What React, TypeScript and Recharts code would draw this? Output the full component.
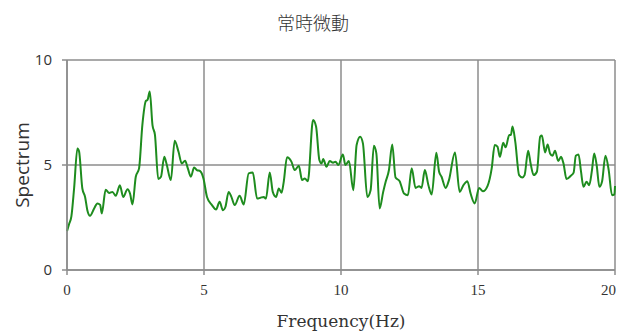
import { LineChart, Line, XAxis, YAxis, CartesianGrid } from 'recharts';

const freq = [
  0.0, 0.08, 0.16, 0.26, 0.38, 0.44, 0.56, 0.66, 0.74, 0.84, 0.99, 1.11, 1.21, 1.27, 1.41, 1.54, 1.66, 1.78, 1.93, 2.05,
  2.21, 2.3, 2.39, 2.51, 2.63, 2.75, 2.88, 2.94, 3.02, 3.12, 3.21, 3.33, 3.43, 3.55, 3.63, 3.79, 3.93, 4.07, 4.19, 4.31,
  4.41, 4.52, 4.64, 4.74, 4.86, 4.98, 5.11, 5.29, 5.44, 5.57, 5.69, 5.78, 5.9, 6.0, 6.12, 6.3, 6.45, 6.63, 6.78, 6.94,
  7.06, 7.18, 7.26, 7.4, 7.51, 7.63, 7.73, 7.83, 7.91, 8.03, 8.19, 8.31, 8.46, 8.58, 8.68, 8.79, 8.98, 9.09, 9.21, 9.29,
  9.35, 9.47, 9.59, 9.71, 9.8, 9.9, 10.07, 10.16, 10.29, 10.45, 10.57, 10.7, 10.8, 10.96, 11.08, 11.2, 11.29, 11.41, 11.54, 11.63,
  11.75, 11.87, 11.99, 12.14, 12.3, 12.44, 12.58, 12.72, 12.85, 12.94, 13.06, 13.19, 13.31, 13.48, 13.58, 13.67, 13.82, 13.94, 14.16, 14.33,
  14.47, 14.61, 14.73, 14.88, 15.04, 15.18, 15.35, 15.5, 15.61, 15.71, 15.8, 15.92, 16.01, 16.14, 16.2, 16.26, 16.36, 16.5, 16.62, 16.7,
  16.83, 16.92, 17.03, 17.15, 17.27, 17.33, 17.45, 17.54, 17.63, 17.72, 17.81, 17.93, 18.03, 18.12, 18.23, 18.39, 18.49, 18.57, 18.67, 18.76,
  18.85, 18.96, 19.06, 19.16, 19.24, 19.33, 19.43, 19.53, 19.65, 19.77, 19.89, 19.98, 20.0,
];

const spectrum = [
  1.85, 2.2, 2.55, 3.9, 5.79, 5.65, 3.88, 3.48, 2.86, 2.58, 2.93, 3.17, 3.1, 2.69, 3.82, 3.67, 3.72, 3.53, 4.04, 3.48,
  3.85, 3.64, 3.12, 4.44, 4.84, 6.9, 8.05, 8.1, 8.5, 6.9, 6.43, 4.33, 4.44, 5.39, 5.07, 4.28, 6.15, 5.63, 5.07, 5.2,
  4.84, 4.44, 4.88, 4.76, 4.71, 4.36, 3.48, 3.09, 2.88, 3.25, 2.85, 3.0, 3.72, 3.48, 3.09, 3.53, 3.12, 4.6, 4.64, 3.4,
  3.44, 3.48, 3.4, 4.64, 3.72, 3.48, 3.88, 3.68, 4.2, 5.37, 5.16, 4.76, 4.96, 4.28, 4.36, 4.23, 7.14, 6.83, 5.24, 5.07,
  5.28, 4.92, 5.19, 5.11, 5.16, 5.0, 5.5, 5.0, 5.19, 3.8, 5.95, 6.35, 6.03, 3.48, 3.8, 5.92, 5.55, 2.93, 3.72, 4.2,
  4.76, 5.98, 4.4, 4.23, 3.64, 3.56, 4.84, 3.91, 3.99, 3.91, 4.76, 4.04, 3.6, 5.58, 4.68, 4.44, 3.91, 4.28, 5.6, 3.72,
  4.04, 4.23, 3.64, 3.17, 3.91, 3.75, 4.01, 4.84, 5.95, 5.87, 5.39, 6.06, 5.84, 6.43, 6.43, 6.83, 6.11, 4.52, 4.41, 4.52,
  5.68, 5.07, 4.52, 4.68, 6.35, 6.4, 5.6, 5.98, 5.55, 5.44, 5.68, 5.19, 5.39, 5.07, 4.33, 4.49, 4.64, 5.44, 5.5, 4.68,
  3.96, 4.2, 4.04, 4.76, 5.55, 5.0, 3.96, 4.23, 5.44, 4.76, 3.56, 3.6, 4.0,
];

const xTicks = [0, 5, 10, 15, 20];
const yTicks = [0, 5, 10];

const data = freq.map((f, i) => ({ f, s: spectrum[i] }));

const gridColor = '#8c8c8c';
const serif = '"DejaVu Serif", "Liberation Serif", serif';
const sans = '"Open Sans", "Noto Sans", sans-serif';

// last tick label would run past the right edge, so anchor it at its end
function FreqTick(props: any) {
  const { x, y, payload, index } = props;
  const last = index === xTicks.length - 1;
  return (
    <text
      x={last ? x + 1 : x}
      y={y}
      dy="0.71em"
      textAnchor={last ? 'end' : 'middle'}
      fill="#333"
      fontSize={15}
      fontFamily='"Liberation Serif", serif'
    >
      {payload.value}
    </text>
  );
}

export default function App() {
  return (
    <div style={{ position: 'relative', width: 608, height: 324 }}>
      <div
        style={{
          position: 'absolute',
          left: -3,
          top: 4,
          width: 616,
          textAlign: 'center',
          fontFamily: '"Noto Sans CJK JP", sans-serif',
          fontWeight: 300,
          fontSize: 18,
          lineHeight: '20px',
          color: '#333',
        }}
      >
        常時微動
      </div>
      <LineChart width={608} height={324} data={data} margin={{ top: 52, right: 1, left: 0, bottom: 0 }}>
        <CartesianGrid
          stroke={gridColor}
          strokeWidth={1.5}
          horizontalValues={yTicks}
          verticalValues={xTicks}
        />
        <XAxis
          dataKey="f"
          type="number"
          domain={[0, 20]}
          ticks={xTicks}
          height={62}
          interval={0}
          axisLine={{ stroke: gridColor, strokeWidth: 1.5 }}
          tickLine={{ stroke: gridColor, strokeWidth: 1.5 }}
          tickSize={5}
          tickMargin={9}
          tick={<FreqTick />}
          label={{ value: 'Frequency(Hz)', position: 'insideBottom', offset: 5, fill: '#333', fontSize: 17, fontFamily: serif }}
        />
        <YAxis
          type="number"
          domain={[0, 10]}
          ticks={yTicks}
          width={59}
          axisLine={{ stroke: gridColor, strokeWidth: 1.5 }}
          tickLine={{ stroke: gridColor, strokeWidth: 1.5 }}
          tickSize={5}
          tickMargin={10}
          tick={{ fill: '#333', fontSize: 15, fontFamily: sans }}
          label={{
            value: 'Spectrum',
            angle: -90,
            position: 'insideLeft',
            offset: 14,
            fill: '#333',
            fontSize: 19,
            fontFamily: sans,
            style: { textAnchor: 'middle' },
          }}
        />
        <Line
          type="monotone"
          dataKey="s"
          stroke="#1e8c1e"
          strokeWidth={2}
          dot={false}
          isAnimationActive={false}
        />
      </LineChart>
    </div>
  );
}
